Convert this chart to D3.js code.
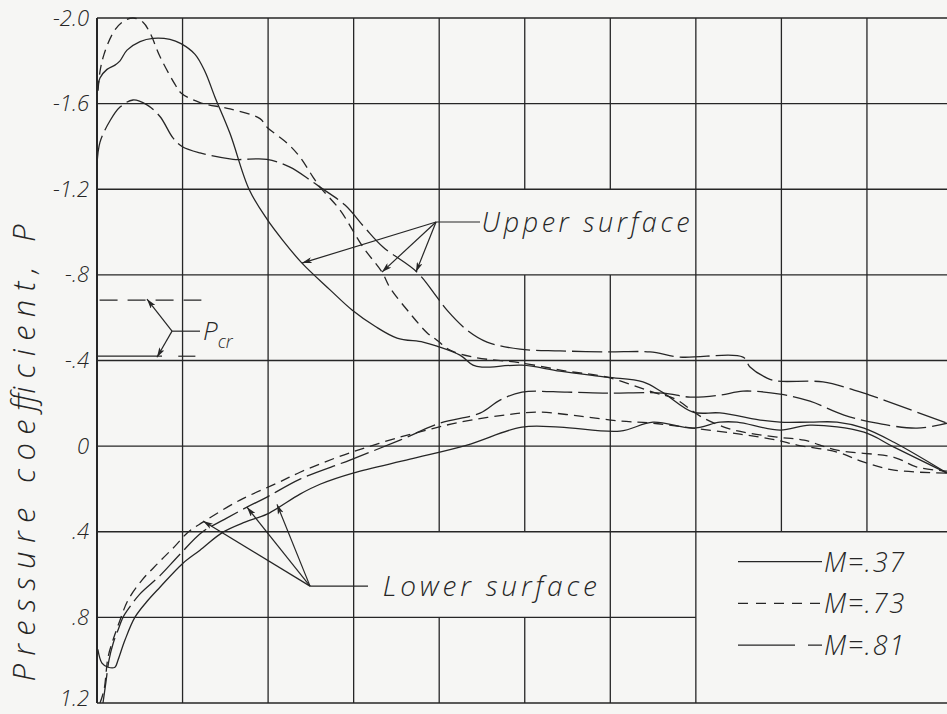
<!DOCTYPE html>
<html><head><meta charset="utf-8">
<script src="https://cdnjs.cloudflare.com/ajax/libs/d3/7.8.5/d3.min.js"></script>
<style>
html,body{margin:0;padding:0;background:#f6f6f4;}
svg{display:block;}
text{font-family:"Open Sans","DejaVu Sans",sans-serif;font-style:italic;font-weight:300;fill:#262626;}
</style></head><body>
<svg id="chart" width="947" height="714"></svg>
<script>
// ---------- data (x = percent chord, P = pressure coefficient) ----------
const chordTicks = [0,10,20,30,40,50,60,70,80,90,100];
const pTicks = [-2.0,-1.6,-1.2,-0.8,-0.4,0,0.4,0.8,1.2];
const pTickLabels = ["-2.0","-1.6","-1.2","-.8","-.4","0",".4",".8","1.2"];
const machLabels = ["M=.37","M=.73","M=.81"];
const pCritical = [-0.682,-0.42];

const upper37 = [[0,-1.64],[0.35,-1.72],[1.17,-1.76],[2.1,-1.78],[2.69,-1.8],[3.51,-1.85],[5.03,-1.89],[6.55,-1.905],[8.53,-1.9],[9.82,-1.88],[11.46,-1.83],[12.62,-1.75],[13.79,-1.63],[15.55,-1.46],[17.77,-1.2],[19.87,-1.06],[21.74,-0.96],[23.96,-0.855],[27.24,-0.73],[29.81,-0.636],[32.5,-0.56],[35.07,-0.505],[38.11,-0.486],[39.74,-0.467],[42.43,-0.425],[43.95,-0.378],[45.0,-0.369],[49.68,-0.378],[54.12,-0.35],[59.61,-0.322],[63.82,-0.3],[66.16,-0.25],[69.67,-0.159],[72.82,-0.155],[77.85,-0.12],[79.84,-0.112],[83.34,-0.112],[86.5,-0.112],[89.65,-0.084],[93.16,-0.018],[99.36,0.126]];
const upper73 = [[0.12,-1.66],[0.35,-1.75],[0.82,-1.83],[1.87,-1.93],[2.92,-1.98],[4.21,-2.0],[5.38,-1.98],[6.2,-1.93],[7.36,-1.82],[9.12,-1.69],[9.82,-1.65],[12.04,-1.605],[15.55,-1.575],[19.05,-1.53],[19.87,-1.49],[22.21,-1.416],[23.73,-1.35],[25.25,-1.257],[26.07,-1.21],[28.4,-1.103],[31.09,-0.93],[33.31,-0.813],[34.25,-0.74],[36.59,-0.62],[38.57,-0.53],[39.74,-0.495],[41.26,-0.449],[43.95,-0.416],[49.68,-0.388],[54.94,-0.35],[59.61,-0.322],[64.99,-0.252],[67.6,-0.22],[70.5,-0.14],[73.64,-0.084],[76.3,-0.06],[79.49,-0.042],[82.65,-0.028],[86.5,0.019],[93.16,0.052],[95.85,0.098],[99.36,0.117]];
const upper81 = [[0,-1.313],[0.35,-1.42],[1.52,-1.52],[2.69,-1.584],[4.21,-1.617],[5.84,-1.594],[7.36,-1.54],[8.88,-1.44],[9.94,-1.40],[12.04,-1.37],[15.9,-1.34],[19.87,-1.34],[22.56,-1.303],[24.9,-1.243],[26.07,-1.21],[28.99,-1.126],[31.33,-1.019],[33.43,-0.93],[37.4,-0.813],[39.74,-0.696],[40.91,-0.635],[43.25,-0.542],[45.59,-0.486],[49.44,-0.453],[54.12,-0.445],[59.61,-0.44],[64.64,-0.44],[68.15,-0.416],[75.51,-0.416],[76.33,-0.37],[78.32,-0.318],[79.49,-0.304],[84.86,-0.30],[88.49,-0.262],[89.65,-0.248],[91.99,-0.215],[99.36,-0.107]];

const lower37 = [[0.1,0.95],[0.58,1.014],[1.29,1.033],[2.1,1.033],[2.45,1.0],[3.27,0.906],[4.44,0.799],[5.96,0.72],[7.36,0.659],[10.05,0.547],[12.04,0.486],[14.73,0.402],[17.3,0.355],[19.87,0.318],[23.73,0.224],[26.07,0.178],[29.92,0.126],[36.59,0.061],[43.25,-0.005],[49.68,-0.089],[54.12,-0.089],[61.13,-0.07],[64.99,-0.112],[69.67,-0.084],[72.82,-0.112],[74.81,-0.112],[79.84,-0.075],[83.34,-0.098],[89.65,-0.065],[93.16,0.005],[99.36,0.126]];
const lower73 = [[0.35,1.2],[0.82,1.139],[1.29,0.986],[1.87,0.906],[2.69,0.813],[3.62,0.72],[5.26,0.626],[7.13,0.547],[9.12,0.467],[10.64,0.402],[12.39,0.355],[16.72,0.252],[21.04,0.173],[23.73,0.122],[27.82,0.056],[31.56,0.005],[35.42,-0.042],[38.57,-0.075],[42.43,-0.112],[49.44,-0.154],[51.78,-0.159],[56.46,-0.14],[61.13,-0.117],[64.99,-0.107],[69.67,-0.084],[75.16,-0.056],[79.49,-0.028],[81.83,-0.005],[86.5,0.028],[89.65,0.075],[93.16,0.112],[99.36,0.126]];
const lower81 = [[0.7,1.2],[1.05,1.1],[1.4,1.0],[1.9,0.92],[2.45,0.86],[3.04,0.80],[3.86,0.75],[5.03,0.69],[7.36,0.605],[9.7,0.505],[12.27,0.402],[14.96,0.341],[17.53,0.285],[19.87,0.238],[23.73,0.154],[29.57,0.065],[35.42,-0.028],[40.09,-0.107],[44.77,-0.154],[47.11,-0.215],[49.68,-0.252],[54.94,-0.252],[59.61,-0.248],[66.16,-0.248],[69.32,-0.229],[72.82,-0.238],[75.51,-0.257],[79.84,-0.243],[83.34,-0.21],[87.32,-0.145],[91.18,-0.107],[95.85,-0.084],[99.36,-0.107]];

// ---------- setup ----------
const INK = "#262626";
const svg = d3.select("#chart");
const x = d3.scaleLinear().domain([0,100]).range([97,952.5]);
const y = d3.scaleLinear().domain([-2.0,1.2]).range([18,703]);

svg.append("rect").attr("width",947).attr("height",714).attr("fill","#f6f6f4");

const defs = svg.append("defs");
defs.append("marker").attr("id","arr").attr("viewBox","0 0 10 6")
  .attr("refX",10).attr("refY",3).attr("markerWidth",10).attr("markerHeight",6)
  .attr("markerUnits","userSpaceOnUse").attr("orient","auto")
  .append("path").attr("d","M0,0 L10,3 L0,6 L2.5,3 Z").attr("fill",INK);

// ---------- grid ----------
const grid = svg.append("g").attr("stroke",INK).attr("stroke-width",1.3).attr("fill","none");
const blanks = [
  {c:[50,60], p:[-1.2,-0.8]},   // "Upper surface" label cell
  {c:[40,50], p:[0.4,0.8]},     // "Lower surface" label cell
  {c:[80,90], p:[0.4,1.2]}      // legend box
];
pTicks.forEach(p => {
  const xEnd = (p === 0.8) ? x(70) : x(100);
  grid.append("line").attr("x1",x(0)).attr("x2",xEnd).attr("y1",y(p)).attr("y2",y(p));
});
chordTicks.filter(c => c > 0 && c < 100).forEach(c => {
  let segs = [[-2.0,1.2]];
  blanks.filter(b => b.c.includes(c)).forEach(b => {
    const out = [];
    segs.forEach(([a,bb]) => {
      if (b.p[1] <= a || b.p[0] >= bb) { out.push([a,bb]); return; }
      if (b.p[0] > a) out.push([a,b.p[0]]);
      if (b.p[1] < bb) out.push([b.p[1],bb]);
    });
    segs = out;
  });
  segs.forEach(([a,bb]) => grid.append("line").attr("x1",x(c)).attr("x2",x(c)).attr("y1",y(a)).attr("y2",y(bb)));
});
svg.append("line").attr("x1",x(0)).attr("x2",x(0)).attr("y1",y(-2.0)).attr("y2",y(1.2))
  .attr("stroke",INK).attr("stroke-width",2);

// ---------- y axis labels ----------
const yAxis = svg.append("g").attr("transform",`translate(${x(0)},0)`)
  .call(d3.axisLeft(y).tickValues(pTicks).tickFormat((d,i)=>pTickLabels[i]).tickSize(0).tickPadding(8));
yAxis.select(".domain").remove();
yAxis.selectAll("text").attr("font-size",22).attr("fill",INK)
  .style("font-family",'"Open Sans","DejaVu Sans",sans-serif').style("font-style","italic").style("font-weight","300");
yAxis.selectAll("text").filter(d => d === 1.2).attr("dy","0.12em");

svg.append("text").attr("transform","translate(35,453) rotate(-90)")
  .attr("text-anchor","middle").attr("font-size",31)
  .attr("textLength",457).attr("lengthAdjust","spacing")
  .text("Pressure coefficient, P");

// ---------- curves ----------
const line = d3.line().x(d=>x(d[0])).y(d=>y(d[1])).curve(d3.curveCatmullRom.alpha(0.5));
const dash = {"M=.37":null, "M=.73":"10,6", "M=.81":"30,6"};
const seriesList = [
  {data:upper37, m:"M=.37"},{data:lower37, m:"M=.37"},
  {data:upper73, m:"M=.73"},{data:lower73, m:"M=.73"},
  {data:upper81, m:"M=.81"},{data:lower81, m:"M=.81"}
];
const curves = svg.append("g").attr("fill","none").attr("stroke",INK).attr("stroke-width",1.3);
seriesList.forEach(s => {
  curves.append("path").attr("d",line(s.data))
    .attr("stroke-dasharray",dash[s.m]);
});

// ---------- annotations ----------
const ann = svg.append("g").attr("stroke",INK).attr("stroke-width",1.2).attr("fill","none");
function arrow(p0,p1){
  ann.append("line").attr("x1",x(p0[0])).attr("y1",y(p0[1])).attr("x2",x(p1[0])).attr("y2",y(p1[1]))
    .attr("marker-end","url(#arr)");
}
function seg(p0,p1,dasharr){
  ann.append("line").attr("x1",x(p0[0])).attr("y1",y(p0[1])).attr("x2",x(p1[0])).attr("y2",y(p1[1]))
    .attr("stroke-dasharray",dasharr||null);
}
const uj = [39.63,-1.047];
seg(uj,[44.77,-1.047]);
arrow(uj,[23.96,-0.855]); arrow(uj,[33.31,-0.813]); arrow(uj,[37.29,-0.813]);
svg.append("text").attr("x",x(44.95)).attr("y",y(-1.047)+10).attr("font-size",27)
  .attr("textLength",208).attr("lengthAdjust","spacing").text("Upper surface");
const lj = [24.9,0.654];
seg(lj,[31.68,0.654]);
arrow(lj,[12.39,0.35]); arrow(lj,[17.53,0.285]); arrow(lj,[21.04,0.272]);
svg.append("text").attr("x",x(33.4)).attr("y",y(0.654)+10).attr("font-size",28)
  .attr("textLength",214).attr("lengthAdjust","spacing").text("Lower surface");
seg([0.3,pCritical[0]],[12.2,pCritical[0]],"18,10");
seg([0,pCritical[1]],[7.6,pCritical[1]]);
seg([9.5,pCritical[1]],[11.5,pCritical[1]]);
const pj = [8.77,-0.537];
seg(pj,[12.04,-0.537]);
arrow(pj,[5.84,pCritical[0]-0.005]); arrow(pj,[7.01,pCritical[1]+0.005]);
const pcr = svg.append("text").attr("x",x(12.4)).attr("y",y(-0.537)+9).attr("font-size",26);
pcr.append("tspan").text("P");
pcr.append("tspan").attr("font-size",18).attr("dy",8).text("cr");

// ---------- legend ----------
const legendDash = {"M=.37":null, "M=.73":"10,8", "M=.81":"57,13,15,40"};
const legendP = [0.54,0.735,0.93];
machLabels.forEach((m,i) => {
  svg.append("line").attr("x1",738).attr("x2",822).attr("y1",y(legendP[i])).attr("y2",y(legendP[i]))
    .attr("stroke",INK).attr("stroke-width",1.3).attr("stroke-dasharray",legendDash[m]);
  svg.append("text").attr("x",824).attr("y",y(legendP[i])+10).attr("font-size",27)
    .attr("textLength",80).attr("lengthAdjust","spacing").text(m);
});
</script>
</body></html>
